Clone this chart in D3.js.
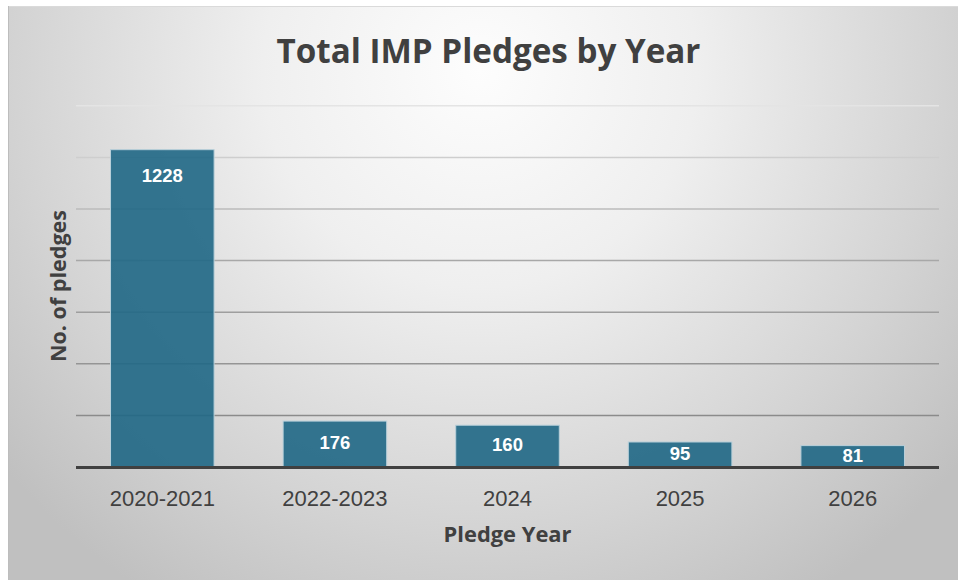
<!DOCTYPE html>
<html>
<head>
<meta charset="utf-8">
<script src="https://cdn.jsdelivr.net/npm/d3@7"></script>
<style>
  html, body { margin: 0; padding: 0; background: #ffffff; }
  svg { display: block; }
</style>
</head>
<body>
<svg id="chart" width="958" height="581"></svg>
<script>
// Pledge counts per year
const categories = ["2020-2021", "2022-2023", "2024", "2025", "2026"];
const pledges = [1228, 176, 160, 95, 81];
const gridValues = [200, 400, 600, 800, 1000, 1200, 1400];
const yMax = 1400;

const titleText = "Total IMP Pledges by Year";
const xTitleText = "Pledge Year";
const yTitleText = "No. of pledges";

const W = 958, H = 581;
const plot = { left: 76, right: 939, top: 105.3, bottom: 466.5 };

const svg = d3.select("#chart");
const defs = svg.append("defs");

// soft radial background, light at top centre, grey toward edges
const bg = defs.append("radialGradient")
  .attr("id", "bgGrad")
  .attr("gradientUnits", "userSpaceOnUse")
  .attr("cx", 480).attr("cy", 70).attr("r", 620)
  .attr("fx", 480).attr("fy", 70);
bg.append("stop").attr("offset", "0%").attr("stop-color", "#fdfdfd");
bg.append("stop").attr("offset", "35%").attr("stop-color", "#efefef");
bg.append("stop").attr("offset", "75%").attr("stop-color", "#d3d3d3");
bg.append("stop").attr("offset", "100%").attr("stop-color", "#c0c0c0");

svg.append("rect")
  .attr("x", 8).attr("y", 6)
  .attr("width", W - 8).attr("height", H - 7)
  .attr("fill", "url(#bgGrad)");
svg.append("line")
  .attr("x1", 8).attr("x2", W).attr("y1", 6.5).attr("y2", 6.5)
  .attr("stroke", "#dadada").attr("stroke-width", 1);
svg.append("line")
  .attr("x1", 8.5).attr("x2", 8.5).attr("y1", 6).attr("y2", H - 1)
  .attr("stroke", "#bdbdbd").attr("stroke-width", 1);

const x = d3.scaleBand()
  .domain(categories)
  .range([plot.left, plot.right])
  .paddingInner(0.4)
  .paddingOuter(0.2);

const y = d3.scaleLinear()
  .domain([0, yMax])
  .range([plot.bottom, plot.top]);

// gridline shade: light near the top, mid grey near the baseline
const gridShade = d3.scaleLinear()
  .domain([plot.top, 160, 260, 420])
  .range(["#e4e4e4", "#cdcdcd", "#a8a8a8", "#8a8a8a"])
  .clamp(true);

// gridlines
const grid = svg.append("g")
  .attr("transform", `translate(${plot.left},0)`)
  .call(d3.axisLeft(y)
    .tickValues(gridValues)
    .tickSize(-(plot.right - plot.left))
    .tickFormat(""));
grid.select(".domain").remove();
grid.selectAll(".tick line")
  .attr("stroke", d => gridShade(y(d)))
  .attr("stroke-width", 1.5);

// bars
svg.append("g").selectAll("rect")
  .data(pledges)
  .join("rect")
  .attr("x", (d, i) => x(categories[i]))
  .attr("y", d => y(d))
  .attr("width", x.bandwidth())
  .attr("height", d => y(0) - y(d))
  .attr("fill", "#1f6785")
  .attr("fill-opacity", 0.9)
  .attr("stroke", "#b9d0da")
  .attr("stroke-width", 1);

// baseline axis with category labels
const xAxis = svg.append("g")
  .attr("transform", `translate(0,${y(0) + 1})`)
  .call(d3.axisBottom(x).tickSize(0).tickPadding(0));
xAxis.select(".domain")
  .attr("d", `M${plot.left},0H${plot.right}`)
  .attr("stroke", "#404040")
  .attr("stroke-width", 3);
xAxis.selectAll(".tick text")
  .attr("dy", null)
  .attr("y", 38)
  .attr("font-family", "'Liberation Sans', Arial, sans-serif")
  .attr("font-size", 22)
  .attr("fill", "#404040");

// value labels inside the bar tops
svg.append("g").selectAll("text")
  .data(pledges)
  .join("text")
  .attr("x", (d, i) => x(categories[i]) + x.bandwidth() / 2)
  .attr("y", d => {
    const top = y(d);
    const centre = Math.min(top + 25.5, (top + y(0)) / 2 - 1);
    return centre + 6.5;
  })
  .attr("text-anchor", "middle")
  .attr("font-family", "'Liberation Sans', Arial, sans-serif")
  .attr("font-weight", "bold")
  .attr("font-size", 18.5)
  .attr("fill", "#ffffff")
  .text(d => d);

// shrink or grow a label's font size so it spans the given width
function fitWidth(sel, width) {
  const base = parseFloat(sel.attr("font-size"));
  const len = sel.node().getComputedTextLength();
  sel.attr("font-size", (base * width / len).toFixed(2));
}

const headFont = "'Open Sans', 'Noto Sans', sans-serif";

const title = svg.append("text")
  .attr("x", 488.5).attr("y", 62.5)
  .attr("text-anchor", "middle")
  .attr("font-family", headFont)
  .attr("font-weight", "bold")
  .attr("font-size", 32)
  .attr("fill", "#404040")
  .text(titleText);
fitWidth(title, 424);

const xTitle = svg.append("text")
  .attr("x", (plot.left + plot.right) / 2).attr("y", 542.3)
  .attr("text-anchor", "middle")
  .attr("font-family", headFont)
  .attr("font-weight", "bold")
  .attr("font-size", 20)
  .attr("fill", "#404040")
  .text(xTitleText);
fitWidth(xTitle, 128);

const yTitle = svg.append("text")
  .attr("transform", "translate(65.5,286) rotate(-90)")
  .attr("text-anchor", "middle")
  .attr("font-family", headFont)
  .attr("font-weight", "bold")
  .attr("font-size", 20)
  .attr("fill", "#404040")
  .text(yTitleText);
fitWidth(yTitle, 152);
</script>
</body>
</html>
